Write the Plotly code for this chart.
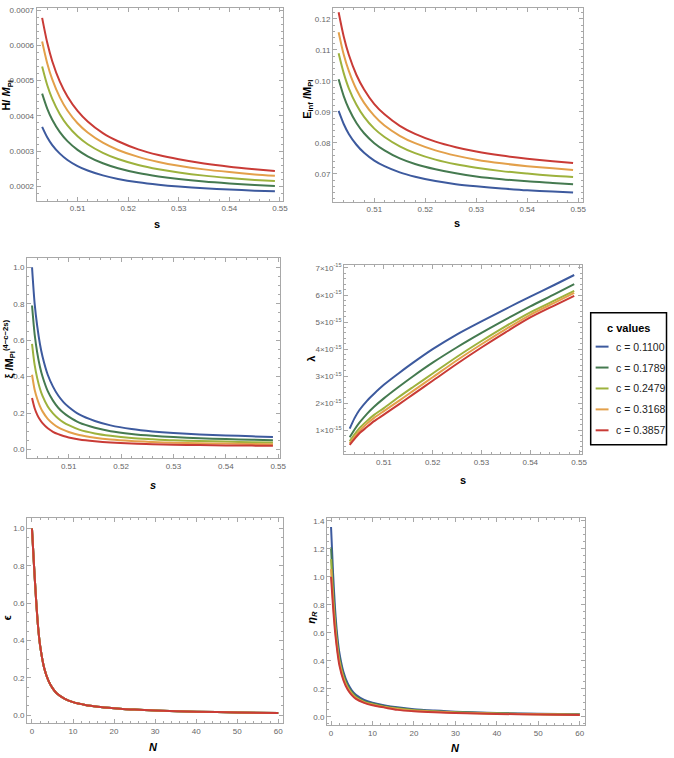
import plotly.graph_objects as go

# values
c_labels = ["c = 0.1100", "c = 0.1789", "c = 0.2479", "c = 0.3168", "c = 0.3857"]
colors = ["#3d5a9e", "#457a50", "#9db23d", "#e3a04a", "#c93b36"]

# H / M_Pl  vs s
s_H = [0.503, 0.504, 0.505, 0.5065, 0.508, 0.510, 0.512, 0.515, 0.518, 0.522, 0.526, 0.530, 0.535, 0.540, 0.545, 0.549]
H_vals = [
    [3.69e-4, 3.395e-4, 3.173e-4, 2.929e-4, 2.75e-4, 2.576e-4, 2.45e-4, 2.312e-4, 2.213e-4, 2.118e-4, 2.05e-4, 1.998e-4, 1.948e-4, 1.911e-4, 1.88e-4, 1.86e-4],
    [4.63e-4, 4.207e-4, 3.889e-4, 3.539e-4, 3.283e-4, 3.035e-4, 2.854e-4, 2.656e-4, 2.514e-4, 2.379e-4, 2.282e-4, 2.207e-4, 2.136e-4, 2.083e-4, 2.038e-4, 2.01e-4],
    [5.40e-4, 4.875e-4, 4.481e-4, 4.047e-4, 3.73e-4, 3.421e-4, 3.196e-4, 2.952e-4, 2.776e-4, 2.608e-4, 2.487e-4, 2.395e-4, 2.306e-4, 2.24e-4, 2.185e-4, 2.15e-4],
    [6.11e-4, 5.495e-4, 5.033e-4, 4.524e-4, 4.152e-4, 3.79e-4, 3.527e-4, 3.24e-4, 3.034e-4, 2.837e-4, 2.695e-4, 2.587e-4, 2.483e-4, 2.406e-4, 2.341e-4, 2.30e-4],
    [6.78e-4, 6.08e-4, 5.55e-4, 4.97e-4, 4.55e-4, 4.14e-4, 3.84e-4, 3.51e-4, 3.28e-4, 3.05e-4, 2.89e-4, 2.77e-4, 2.65e-4, 2.56e-4, 2.49e-4, 2.44e-4],
]

# E_inf / M_Pl  vs s
s_E = s_H
E_vals = [
    [0.0903, 0.0861, 0.0829, 0.0794, 0.0768, 0.0743, 0.0725, 0.0705, 0.0691, 0.0677, 0.0667, 0.0660, 0.0653, 0.0647, 0.0643, 0.0640],
    [0.1005, 0.0951, 0.0910, 0.0864, 0.0831, 0.0799, 0.0776, 0.0750, 0.0732, 0.0715, 0.0702, 0.0692, 0.0683, 0.0676, 0.0671, 0.0667],
    [0.1089, 0.1025, 0.0976, 0.0923, 0.0884, 0.0846, 0.0819, 0.0789, 0.0767, 0.0746, 0.0731, 0.0720, 0.0709, 0.0701, 0.0694, 0.0690],
    [0.1157, 0.1085, 0.1032, 0.0972, 0.0929, 0.0887, 0.0856, 0.0823, 0.0799, 0.0776, 0.0759, 0.0746, 0.0734, 0.0725, 0.0718, 0.0713],
    [0.1221, 0.1143, 0.1084, 0.1019, 0.0972, 0.0925, 0.0892, 0.0855, 0.0829, 0.0804, 0.0786, 0.0772, 0.0759, 0.0749, 0.0741, 0.0735],
]

# xi / M_Pl^(4-c-2s)  vs s
s_xi = [0.503, 0.5035, 0.504, 0.5045, 0.505, 0.506, 0.507, 0.508, 0.509, 0.510, 0.512, 0.515, 0.518, 0.522, 0.526, 0.530, 0.535, 0.540, 0.545, 0.549]
xi_vals = [
    [1.0, 0.80, 0.675, 0.58, 0.51, 0.41, 0.345, 0.296, 0.26, 0.233, 0.192, 0.156, 0.132, 0.112, 0.099, 0.090, 0.082, 0.077, 0.072, 0.069],
    [0.79, 0.632, 0.53, 0.455, 0.40, 0.32, 0.268, 0.229, 0.201, 0.18, 0.147, 0.119, 0.10, 0.085, 0.075, 0.068, 0.062, 0.057, 0.053, 0.051],
    [0.58, 0.464, 0.39, 0.335, 0.294, 0.236, 0.198, 0.17, 0.149, 0.133, 0.109, 0.088, 0.075, 0.063, 0.056, 0.050, 0.046, 0.043, 0.040, 0.038],
    [0.41, 0.328, 0.277, 0.238, 0.209, 0.168, 0.141, 0.121, 0.107, 0.096, 0.079, 0.064, 0.054, 0.046, 0.041, 0.037, 0.034, 0.032, 0.030, 0.029],
    [0.282, 0.226, 0.19, 0.164, 0.144, 0.116, 0.097, 0.084, 0.074, 0.066, 0.055, 0.045, 0.038, 0.032, 0.029, 0.026, 0.024, 0.022, 0.021, 0.020],
]

# lambda vs s, in units of 1e-15
s_lam = [0.503, 0.504, 0.505, 0.5065, 0.508, 0.510, 0.513, 0.516, 0.520, 0.525, 0.530, 0.535, 0.540, 0.545, 0.549]
lam_vals = [
    [1.06, 1.45, 1.75, 2.08, 2.35, 2.68, 3.10, 3.50, 4.00, 4.55, 5.03, 5.49, 5.94, 6.38, 6.74],
    [0.74, 1.03, 1.28, 1.60, 1.87, 2.18, 2.60, 3.00, 3.50, 4.07, 4.60, 5.10, 5.58, 6.03, 6.40],
    [0.595, 0.85, 1.08, 1.34, 1.57, 1.82, 2.22, 2.60, 3.10, 3.72, 4.30, 4.85, 5.36, 5.80, 6.15],
    [0.52, 0.76, 0.98, 1.24, 1.46, 1.71, 2.08, 2.46, 2.96, 3.59, 4.18, 4.74, 5.27, 5.72, 6.08],
    [0.46, 0.68, 0.89, 1.12, 1.34, 1.58, 1.95, 2.33, 2.83, 3.46, 4.06, 4.63, 5.17, 5.62, 5.97],
]
lam_ticks = [1, 2, 3, 4, 5, 6, 7]
lam_ticktext = ["%d\u00d710<sup>-15</sup>" % t for t in lam_ticks]

# epsilon vs N (all five curves sit on top of each other)
N_vals = [0, 0.5, 1, 1.5, 2, 3, 4, 5, 6, 8, 10, 13, 16, 20, 25, 30, 40, 50, 60]
eps = [1.0, 0.8, 0.62, 0.47, 0.37, 0.25, 0.185, 0.145, 0.118, 0.088, 0.07, 0.055, 0.046, 0.038, 0.030, 0.025, 0.019, 0.015, 0.012]

# eta_R vs N
eta_vals = [
    [1.357, 1.02, 0.76, 0.58, 0.46, 0.32, 0.24, 0.19, 0.158, 0.122, 0.102, 0.082, 0.068, 0.055, 0.045, 0.037, 0.028, 0.022, 0.018],
    [1.21, 0.92, 0.70, 0.54, 0.43, 0.30, 0.225, 0.178, 0.148, 0.113, 0.095, 0.076, 0.063, 0.050, 0.041, 0.034, 0.026, 0.020, 0.017],
    [1.127, 0.86, 0.66, 0.51, 0.405, 0.285, 0.213, 0.169, 0.14, 0.107, 0.09, 0.071, 0.059, 0.047, 0.038, 0.032, 0.024, 0.019, 0.016],
    [1.056, 0.82, 0.63, 0.49, 0.39, 0.272, 0.204, 0.162, 0.134, 0.104, 0.086, 0.068, 0.056, 0.043, 0.036, 0.030, 0.023, 0.018, 0.015],
    [1.0, 0.78, 0.60, 0.47, 0.37, 0.26, 0.195, 0.155, 0.128, 0.10, 0.083, 0.066, 0.05, 0.04, 0.033, 0.028, 0.021, 0.017, 0.014],
]

W, HT = 674, 758
NARROW = "Liberation Sans Narrow, Arial Narrow, Liberation Sans, sans-serif"
TICKFONT = dict(family=NARROW, size=8, color="#666666")
TITLEFONT = dict(family="Liberation Sans, Arial, sans-serif", size=11, color="black")
FRAME = "#a8a8a8"

panels = [
    dict(box=(37, 5, 285.7, 198.3), x=s_H, ys=H_vals, xr=[0.50192, 0.55063], yr=[0.00016, 0.000706],
         xd=0.01, xm=0.002, yd=0.0001, ym=0.00002, xf=".2f", yf=".4f"),
    dict(box=(336, 5, 588, 199.3), x=s_E, ys=E_vals, xr=[0.5019, 0.5509], yr=[0.0611, 0.1235],
         xd=0.01, xm=0.002, yd=0.01, ym=0.002, xf=".2f", yf=".2f"),
    dict(box=(27.3, 256, 283, 457), x=s_xi, ys=xi_vals, xr=[0.50205, 0.55044], yr=[-0.048, 1.051],
         xd=0.01, xm=0.002, yd=0.2, ym=0.05, xf=".2f", yf=".1f"),
    dict(box=(347.3, 263.3, 587.3, 452.7), x=s_lam, ys=lam_vals, xr=[0.50188, 0.55061], yr=[0.128, 7.1],
         xd=0.01, xm=0.002, yd=1, ym=0.2, xf=".2f", yf=None),
    dict(box=(27.3, 517.3, 285.7, 723.3), x=N_vals, ys=[eps] * 5, xr=[-1.2, 61.2], yr=[-0.044, 1.055],
         xd=10, xm=2, yd=0.2, ym=0.05, xf="d", yf=".1f"),
    dict(box=(330, 516.7, 590, 725), x=N_vals, ys=eta_vals, xr=[-0.96, 61.2], yr=[-0.059, 1.4235],
         xd=10, xm=2, yd=0.2, ym=0.05, xf="d", yf=".1f"),
]

fig = go.Figure()
layout = {}
for i, p in enumerate(panels):
    n = "" if i == 0 else str(i + 1)
    for k in range(5):
        fig.add_trace(go.Scatter(
            x=p["x"], y=p["ys"][k], mode="lines", name=c_labels[k],
            line=dict(color=colors[k], width=2, shape="spline", smoothing=0.8),
            xaxis="x" + n, yaxis="y" + n, showlegend=False, hoverinfo="skip"))
    l, t, r, b = p["box"]
    common = dict(showline=True, linecolor=FRAME, linewidth=1, mirror="ticks",
                  ticks="inside", ticklen=4, tickcolor=FRAME, showgrid=False,
                  zeroline=False, tickfont=TICKFONT)
    xa = dict(common, domain=[l / W, r / W], range=p["xr"], anchor="y" + n,
              dtick=p["xd"], tick0=0, tickformat=p["xf"],
              minor=dict(ticks="inside", ticklen=2, tickcolor=FRAME, dtick=p["xm"]))
    ya = dict(common, domain=[1 - b / HT, 1 - t / HT], range=p["yr"], anchor="x" + n,
              minor=dict(ticks="inside", ticklen=2, tickcolor=FRAME, dtick=p["ym"]))
    if p["yf"] is None:
        ya.update(tickmode="array", tickvals=lam_ticks, ticktext=lam_ticktext,
                  minor=dict(ticks="inside", ticklen=2, tickcolor=FRAME, tick0=0, dtick=p["ym"]))
    else:
        ya.update(dtick=p["yd"], tick0=0, tickformat=p["yf"])
    layout["xaxis" + n] = xa
    layout["yaxis" + n] = ya


def px(x, y):
    return x / W, 1 - y / HT


annots = []
# axis titles: (text, x px, y px, angle)
titles = [
    ("<b>H/ <i>M</i><sub>Pl</sub></b>", 7, 92, -90),
    ("<b>s</b>", 158, 222, 0),
    ("<b>E<sub>inf</sub> /M<sub>Pl</sub></b>", 310, 97, -90),
    ("<b>s</b>", 461, 221, 0),
    ("<b>\u03be /M<sub>Pl</sub><sup>(4\u2212c\u22122s)</sup></b>", 9, 347, -90),
    ("<b><i>s</i></b>", 154, 484, 0),
    ("<b>\u03bb</b>", 313, 357, -90),
    ("<b>s</b>", 467, 479, 0),
    ("<b>\u03f5</b>", 7, 617, -90),
    ("<b><i>N</i></b>", 155, 747, 0),
    ("<b><i>\u03b7<sub>R</sub></i></b>", 314, 617, -90),
    ("<b><i>N</i></b>", 460, 748, 0),
]
for text, x, y, ang in titles:
    ax, ay = px(x, y)
    annots.append(dict(text=text, x=ax, y=ay, xref="paper", yref="paper", showarrow=False,
                       textangle=ang, font=TITLEFONT, xanchor="center", yanchor="middle"))

# legend box drawn by hand
shapes = []
lx0, ly0 = px(596, 311)
lx1, ly1 = px(672.5, 443.5)
shapes.append(dict(type="rect", xref="paper", yref="paper", x0=lx0, y0=ly0, x1=lx1, y1=ly1,
                   line=dict(color="black", width=1.5), fillcolor="white"))
tx, ty = px(634, 326)
annots.append(dict(text="<b>c values</b>", x=tx, y=ty, xref="paper", yref="paper", showarrow=False,
                   font=dict(family="Liberation Sans, Arial, sans-serif", size=11, color="black"),
                   xanchor="center", yanchor="middle"))
for k in range(5):
    yy = 345 + 21 * k
    a0, b0 = px(601, yy)
    a1, _ = px(614, yy)
    shapes.append(dict(type="line", xref="paper", yref="paper", x0=a0, y0=b0, x1=a1, y1=b0,
                       line=dict(color=colors[k], width=2)))
    ax, ay = px(620, yy)
    annots.append(dict(text=c_labels[k], x=ax, y=ay, xref="paper", yref="paper", showarrow=False,
                       font=dict(family=NARROW, size=10.5, color="#222222"),
                       xanchor="left", yanchor="middle"))

fig.update_layout(
    width=W, height=HT, margin=dict(l=0, r=0, t=0, b=0),
    paper_bgcolor="white", plot_bgcolor="white", showlegend=False,
    annotations=annots, shapes=shapes, **layout)

# page has a default body margin; remove it so the figure sits at the window corner
fig.write_html("out.html", config={"displayModeBar": False},
               post_script="document.body.style.margin='0px';")
